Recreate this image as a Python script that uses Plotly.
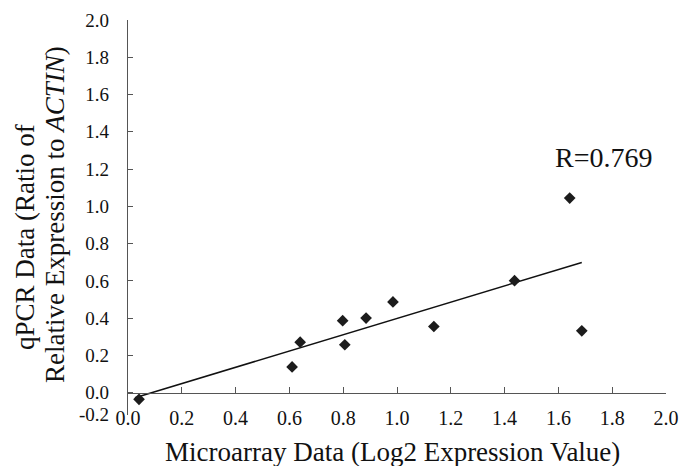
import numpy as np
import plotly.graph_objects as go

# Data
microarray = [0.041, 0.61, 0.64, 0.798, 0.806, 0.885, 0.985, 1.137, 1.437, 1.642, 1.687]
qpcr = [-0.036, 0.138, 0.271, 0.386, 0.257, 0.40, 0.487, 0.355, 0.601, 1.044, 0.332]
r_label = "R=0.769"

x_ticks = [0.0, 0.2, 0.4, 0.6, 0.8, 1.0, 1.2, 1.4, 1.6, 1.8, 2.0]
x_ticktext = ["0.0", "0.2", "0.4", "0.6", "0.8", "1.0", "1.2", "1.4", "1.6", "1.8", "2.0"]
y_ticks = [-0.115, 0.0, 0.2, 0.4, 0.6, 0.8, 1.0, 1.2, 1.4, 1.6, 1.8, 2.0]
y_ticktext = ["-0.2", "0.0", "0.2", "0.4", "0.6", "0.8", "1.0", "1.2", "1.4", "1.6", "1.8", "2.0"]

x_title = "Microarray Data (Log2 Expression Value)"
y_title_1 = "qPCR Data (Ratio of"
y_title_2 = "Relative Expression to <i>ACTIN</i>)"

x = np.array(microarray)
y = np.array(qpcr)
slope, intercept = np.polyfit(x, y, 1)
fit_x = np.array([x.min() - 0.015, x.max()])
fit_y = slope * fit_x + intercept

FONT = "Liberation Serif, Times New Roman, serif"
TXT = "#111111"
YMIN, YMAX = -0.12, 2.0
L, R, T, B = 128, 15, 20, 51
W, H = 681, 466
PW = W - L - R


def px_to_paper_x(px):
    return (px - L) / PW


fig = go.Figure()
fig.add_trace(go.Scatter(x=fit_x, y=fit_y, mode="lines",
                         line=dict(color="#111111", width=1.5), showlegend=False))
fig.add_trace(go.Scatter(x=microarray, y=qpcr, mode="markers",
                         marker=dict(symbol="diamond", size=9, color="#1c1c1c"),
                         showlegend=False))

fig.add_annotation(x=1.766, y=1.262, text=r_label, showarrow=False,
                   font=dict(family=FONT, size=28, color=TXT))

# axis titles
fig.add_annotation(xref="paper", yref="paper", x=px_to_paper_x(392), y=0,
                   yshift=-(452 - (H - B)), yanchor="middle", xanchor="center",
                   text=x_title, showarrow=False,
                   font=dict(family=FONT, size=27, color=TXT))
fig.add_annotation(xref="paper", yref="paper", x=px_to_paper_x(25), y=1 - (237 - T) / (H - T - B),
                   xanchor="center", yanchor="middle", textangle=-90,
                   text=y_title_1, showarrow=False,
                   font=dict(family=FONT, size=27, color=TXT))
fig.add_annotation(xref="paper", yref="paper", x=px_to_paper_x(55), y=1 - (215 - T) / (H - T - B),
                   xanchor="center", yanchor="middle", textangle=-90,
                   text=y_title_2, showarrow=False,
                   font=dict(family=FONT, size=27, color=TXT))

fig.update_layout(
    width=W, height=H,
    margin=dict(l=L, r=R, t=T, b=B),
    paper_bgcolor="white", plot_bgcolor="white",
    font=dict(family=FONT, color=TXT),
    xaxis=dict(range=[0, 2.0], tickvals=x_ticks, ticktext=x_ticktext,
               showgrid=False, zeroline=False, showline=True, linecolor="#555555",
               linewidth=1.2, ticks="inside", ticklen=6, tickcolor="#555555",
               anchor="free", position=(0 - YMIN) / (YMAX - YMIN),
               ticklabelstandoff=7, automargin=False,
               tickfont=dict(family=FONT, size=20, color=TXT)),
    yaxis=dict(range=[YMIN, YMAX], tickvals=y_ticks, ticktext=y_ticktext,
               showgrid=False, zeroline=False, showline=True, linecolor="#555555",
               linewidth=1.2, ticks="inside", ticklen=5, tickcolor="#555555",
               ticklabelstandoff=14, automargin=False,
               tickfont=dict(family=FONT, size=19, color=TXT)),
)

fig.write_html("out.html", config={"displayModeBar": False},
               post_script="document.body.style.margin='0px';document.body.style.overflow='hidden';")
